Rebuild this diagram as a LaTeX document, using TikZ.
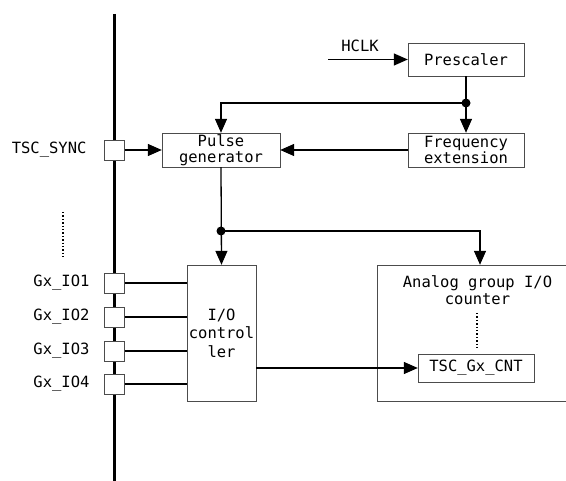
\documentclass[tikz,border=0pt]{standalone}
\usepackage{fontspec}
\setmainfont{DejaVu Sans Mono}
\usepackage{tikz}
\usetikzlibrary{positioning,arrows.meta,calc}

\begin{document}
\begin{tikzpicture}[
  x=1pt, y=-1pt,
  font=\fontsize{15.5}{16.5}\selectfont,
  box/.style={draw=black!70, align=center, inner sep=0pt, fill=white},
  pad/.style={draw=black!70, fill=white, minimum size=20pt, inner sep=0pt},
  ar/.style={-{Triangle[length=14pt,width=12pt]}, line width=1.3pt},
  ln/.style={line width=1.3pt},
  dot/.style={circle, fill=black, minimum size=9pt, inner sep=0pt},
  dots/.style={dotted, line width=1.4pt}
]
  \clip (0,0) rectangle (566,481);
  \fill[white] (0,0) rectangle (566,481);
  % IO bus
  \coordinate (bustop) at (114.5,14);
  \coordinate (busbot) at (114.5,481);
  \draw[line width=3.3pt] (bustop) -- (busbot);
  \node[pad] (sync) at (114.5,150) {};
  \node[pad] (io1) at (114.5,283) {};
  \node[pad] (io2) at (114.5,317) {};
  \node[pad] (io3) at (114.5,351) {};
  \node[pad] (io4) at (114.5,384) {};
  \node[anchor=east] (syncl) at (90,150) {TSC\_SYNC};
  \node[anchor=east] (io1l) at (93,283) {Gx\_IO1};
  \node[anchor=east] (io2l) at (93,317) {Gx\_IO2};
  \node[anchor=east] (io3l) at (93,351) {Gx\_IO3};
  \node[anchor=east] (io4l) at (93,384) {Gx\_IO4};
  \coordinate (vd1) at (63,212);
  \coordinate (vd2) at (63,257);
  \draw[dots] (vd1) -- (vd2);
  % blocks
  \node[box, minimum width=116pt, minimum height=33pt] (presc) at (466,59.5)
    {Prescaler};
  \node[box, minimum width=116pt, minimum height=34pt] (freq) at (466,150)
    {Frequency\\extension};
  \node[box, minimum width=118pt, minimum height=34pt] (pulse) at (221,150)
    {Pulse\\generator};
  \node[box, minimum width=69pt, minimum height=136pt] (ioc) at (221.5,333)
    {I/O\\[2pt]control\\[2pt]ler};
  \node[box, minimum width=223pt, minimum height=136pt] (agc) at (488.5,333) {};
  \node[align=center] (agcl) at (477.5,290) {Analog group I/O\\counter};
  \node[box, minimum width=116pt, minimum height=28pt] (cnt) at (476,368)
    {TSC\_Gx\_CNT};
  \coordinate (ad1) at (477,313);
  \coordinate (ad2) at (477,348);
  \draw[dots] (ad1) -- (ad2);
  % clock path
  \coordinate (hclk) at (328,59.5);
  \draw[ar] (hclk) -- (presc.west);
  \node (hclkl) at (360,46) {HCLK};
  \node[dot] (d1) at (466,103) {};
  \draw[ar] (presc.south) -- (freq.north);
  \draw[ar] (d1.center) -| (pulse.north);
  \draw[ar] (freq.west) -- (pulse.east);
  \draw[ar] (sync.east) -- (pulse.west);
  \node[dot] (d2) at (221,231) {};
  \draw[ar] (pulse.south) -- (ioc.north);
  \draw[ar] (d2.center) -| ($(agc.north)+(-8.5,0)$);
  % io lines
  \draw[ln] (io1.east) -- (io1.east -| ioc.west);
  \draw[ln] (io2.east) -- (io2.east -| ioc.west);
  \draw[ln] (io3.east) -- (io3.east -| ioc.west);
  \draw[ln] (io4.east) -- (io4.east -| ioc.west);
  \draw[ar] (cnt.west -| ioc.east) -- (cnt.west);
\end{tikzpicture}
\end{document}
